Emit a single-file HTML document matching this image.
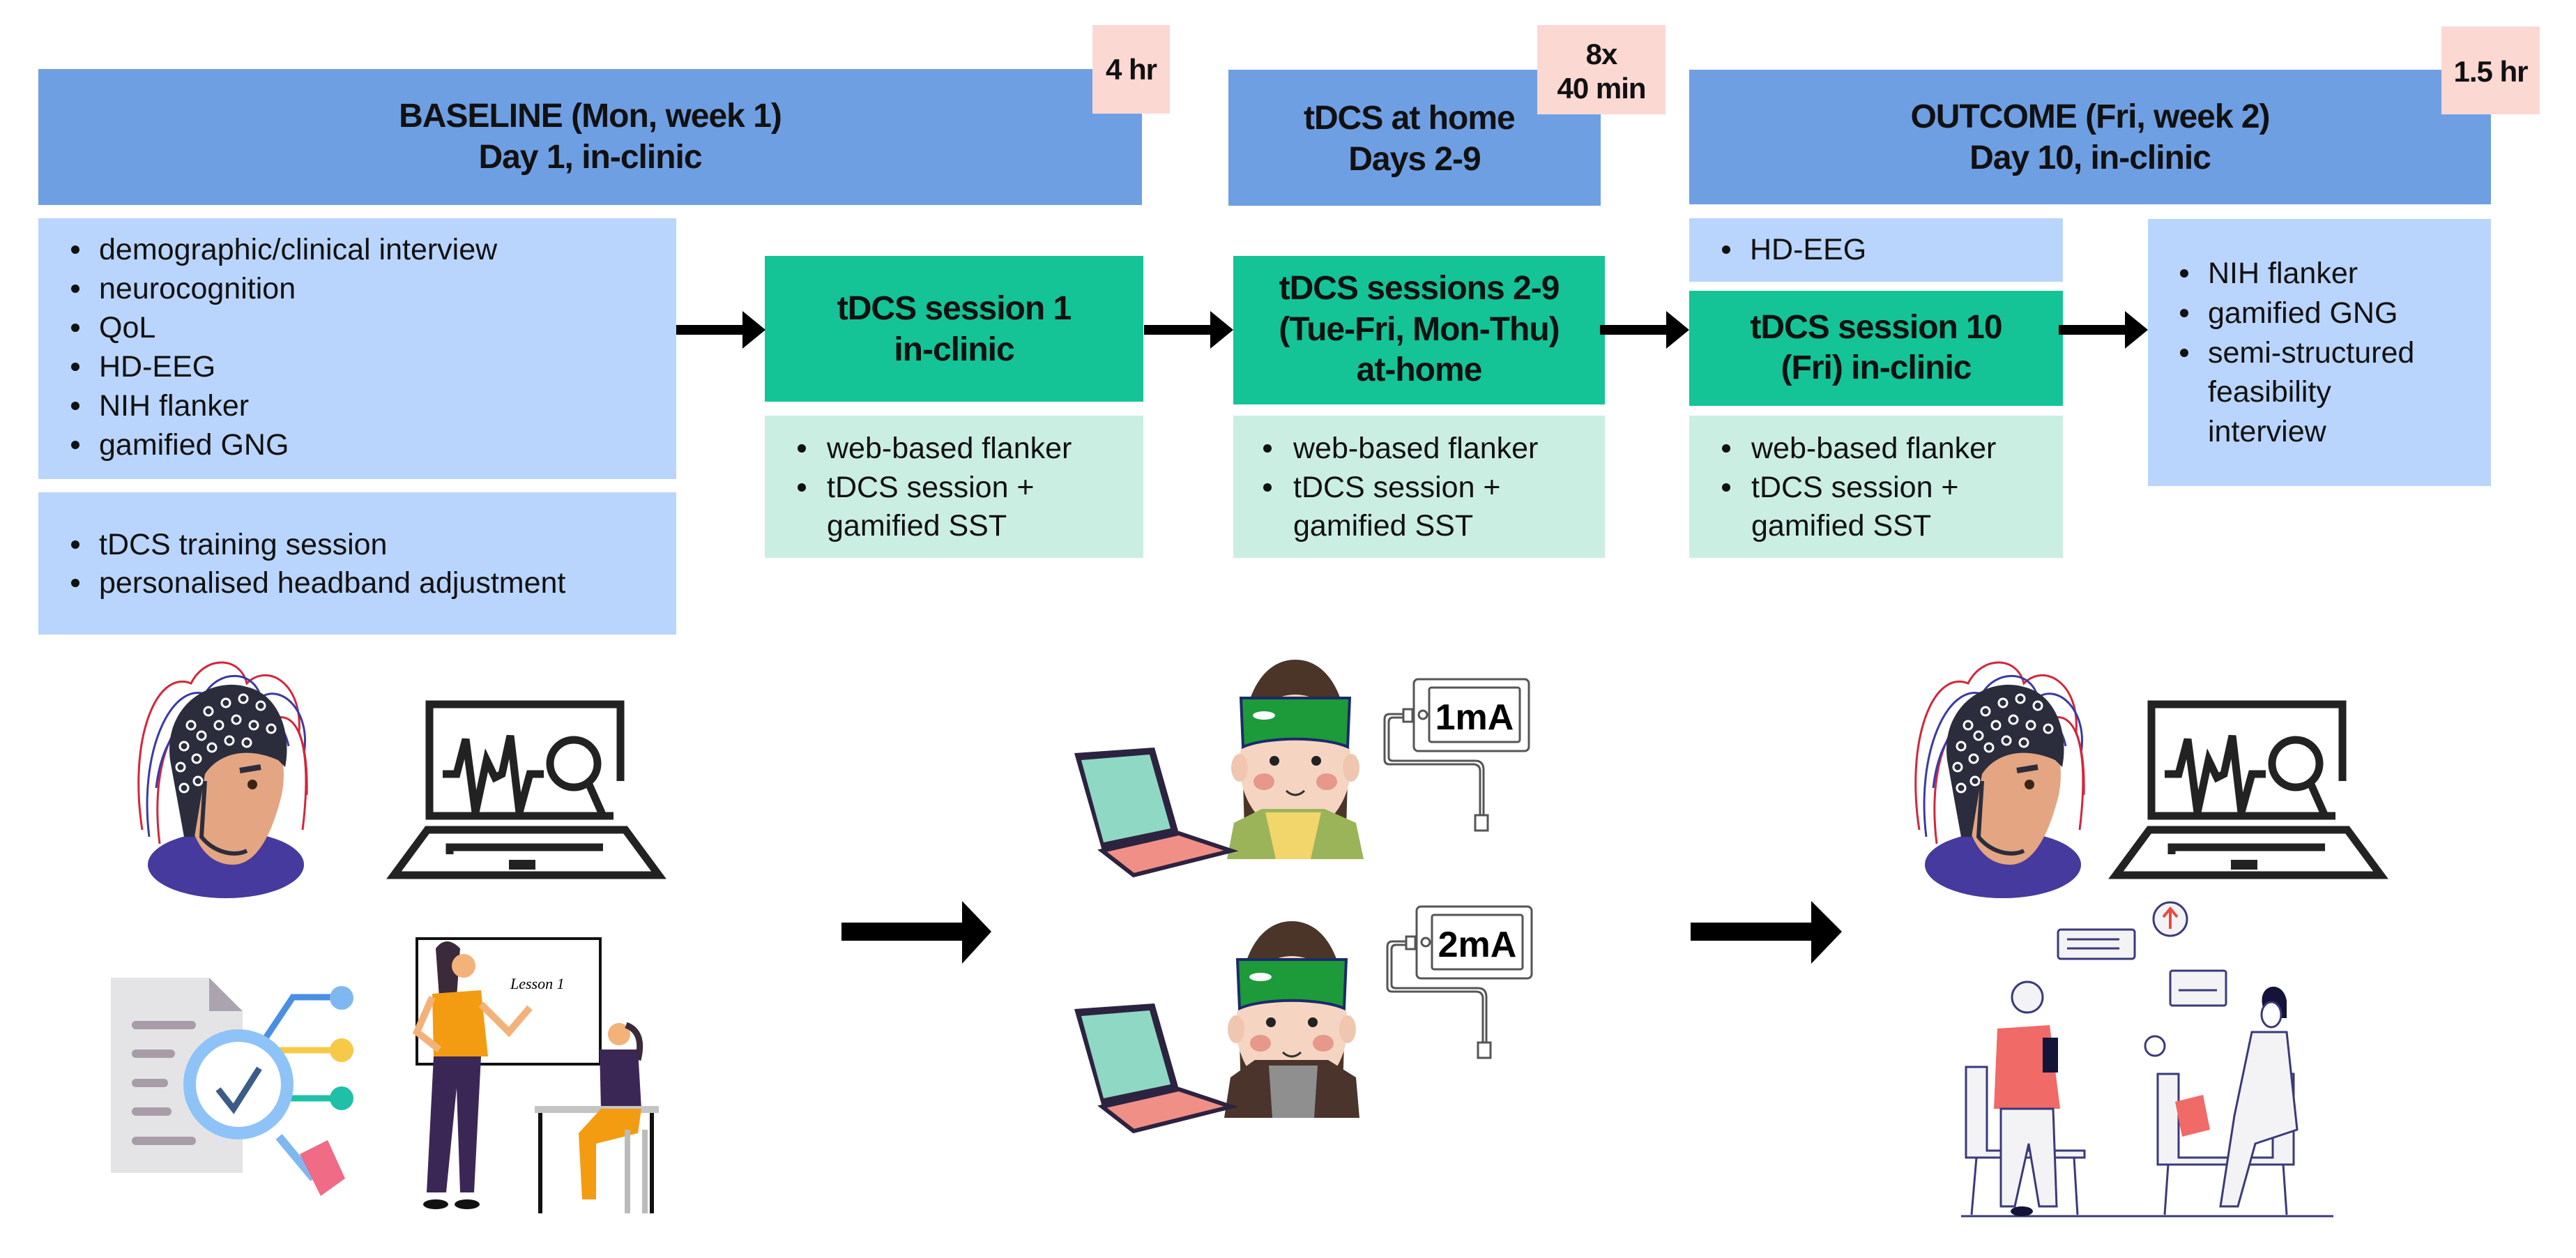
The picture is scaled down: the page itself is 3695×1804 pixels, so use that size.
<!DOCTYPE html>
<html><head><meta charset="utf-8">
<style>
html,body{margin:0;padding:0;background:#fff;}
#c{position:relative;width:3695px;height:1804px;overflow:hidden;font-family:"Liberation Sans",sans-serif;color:#111;}
.b{position:absolute;}
.t{position:absolute;white-space:nowrap;font-size:43px;line-height:50px;}
.h{position:absolute;white-space:nowrap;font-size:48px;line-height:56px;font-weight:bold;text-align:center;letter-spacing:-1px;}
.dot{position:absolute;width:12px;height:12px;border-radius:50%;background:#111;}
</style></head><body><div id="c">
<!-- headers -->
<div class="b" style="left:55px;top:99px;width:1583px;height:195px;background:#6f9fe3"></div>
<div class="b" style="left:1567px;top:36px;width:111px;height:127px;background:#fcd8d3"></div>
<div class="h" style="left:55px;width:1583px;top:139px">BASELINE (Mon, week 1)</div>
<div class="h" style="left:55px;width:1583px;top:198px">Day 1, in-clinic</div>
<div class="h" style="left:1567px;width:111px;top:72px;font-size:42px">4 hr</div>

<div class="b" style="left:1762px;top:100px;width:534px;height:195px;background:#6f9fe3"></div>
<div class="b" style="left:2205px;top:36px;width:184px;height:128px;background:#fcd8d3"></div>
<div class="h" style="left:1762px;width:534px;top:142px;text-align:left;padding-left:108px;box-sizing:border-box">tDCS at home</div>
<div class="h" style="left:1762px;width:534px;top:201px">Days 2-9</div>
<div class="h" style="left:2205px;width:184px;top:50px;font-size:42px">8x</div>
<div class="h" style="left:2205px;width:184px;top:99px;font-size:42px">40 min</div>

<div class="b" style="left:2423px;top:100px;width:1150px;height:193px;background:#6f9fe3"></div>
<div class="b" style="left:3502px;top:38px;width:141px;height:126px;background:#fcd8d3"></div>
<div class="h" style="left:2423px;width:1150px;top:140px">OUTCOME (Fri, week 2)</div>
<div class="h" style="left:2423px;width:1150px;top:199px">Day 10, in-clinic</div>
<div class="h" style="left:3502px;width:141px;top:75px;font-size:42px">1.5 hr</div>

<!-- baseline boxes -->
<div class="b" style="left:55px;top:313px;width:915px;height:374px;background:#b9d5fd"></div>
<div class="b" style="left:55px;top:706px;width:915px;height:204px;background:#b9d5fd"></div>
<div class="dot" style="left:102px;top:352px"></div><div class="t" style="left:142px;top:333px">demographic/clinical interview</div>
<div class="dot" style="left:102px;top:408px"></div><div class="t" style="left:142px;top:389px">neurocognition</div>
<div class="dot" style="left:102px;top:464px"></div><div class="t" style="left:142px;top:445px">QoL</div>
<div class="dot" style="left:102px;top:520px"></div><div class="t" style="left:142px;top:501px">HD-EEG</div>
<div class="dot" style="left:102px;top:576px"></div><div class="t" style="left:142px;top:557px">NIH flanker</div>
<div class="dot" style="left:102px;top:632px"></div><div class="t" style="left:142px;top:613px">gamified GNG</div>
<div class="dot" style="left:102px;top:775px"></div><div class="t" style="left:142px;top:756px">tDCS training session</div>
<div class="dot" style="left:102px;top:830px"></div><div class="t" style="left:142px;top:811px">personalised headband adjustment</div>

<!-- session 1 -->
<div class="b" style="left:1097px;top:367px;width:543px;height:209px;background:#14c496"></div>
<div class="h" style="left:1097px;width:543px;top:415px">tDCS session 1</div>
<div class="h" style="left:1097px;width:543px;top:474px">in-clinic</div>
<div class="b" style="left:1097px;top:596px;width:543px;height:204px;background:#cbeee3"></div>
<div class="dot" style="left:1144px;top:637px"></div><div class="t" style="left:1186px;top:618px">web-based flanker</div>
<div class="dot" style="left:1144px;top:693px"></div><div class="t" style="left:1186px;top:674px">tDCS session +</div>
<div class="t" style="left:1186px;top:729px">gamified SST</div>

<!-- sessions 2-9 -->
<div class="b" style="left:1769px;top:367px;width:533px;height:213px;background:#14c496"></div>
<div class="h" style="left:1769px;width:533px;top:386px">tDCS sessions 2-9</div>
<div class="h" style="left:1769px;width:533px;top:445px">(Tue-Fri, Mon-Thu)</div>
<div class="h" style="left:1769px;width:533px;top:503px">at-home</div>
<div class="b" style="left:1769px;top:596px;width:533px;height:204px;background:#cbeee3"></div>
<div class="dot" style="left:1812px;top:637px"></div><div class="t" style="left:1855px;top:618px">web-based flanker</div>
<div class="dot" style="left:1812px;top:693px"></div><div class="t" style="left:1855px;top:674px">tDCS session +</div>
<div class="t" style="left:1855px;top:729px">gamified SST</div>

<!-- session 10 -->
<div class="b" style="left:2423px;top:313px;width:536px;height:91px;background:#b9d5fd"></div>
<div class="dot" style="left:2470px;top:352px"></div><div class="t" style="left:2510px;top:333px">HD-EEG</div>
<div class="b" style="left:2423px;top:417px;width:536px;height:165px;background:#14c496"></div>
<div class="h" style="left:2423px;width:536px;top:442px">tDCS session 10</div>
<div class="h" style="left:2423px;width:536px;top:500px">(Fri) in-clinic</div>
<div class="b" style="left:2423px;top:596px;width:536px;height:204px;background:#cbeee3"></div>
<div class="dot" style="left:2470px;top:637px"></div><div class="t" style="left:2512px;top:618px">web-based flanker</div>
<div class="dot" style="left:2470px;top:693px"></div><div class="t" style="left:2512px;top:674px">tDCS session +</div>
<div class="t" style="left:2512px;top:729px">gamified SST</div>

<!-- outcome box -->
<div class="b" style="left:3081px;top:314px;width:492px;height:383px;background:#b9d5fd"></div>
<div class="dot" style="left:3127px;top:386px"></div><div class="t" style="left:3167px;top:367px">NIH flanker</div>
<div class="dot" style="left:3127px;top:443px"></div><div class="t" style="left:3167px;top:424px">gamified GNG</div>
<div class="dot" style="left:3127px;top:500px"></div><div class="t" style="left:3167px;top:481px">semi-structured</div>
<div class="t" style="left:3167px;top:537px">feasibility</div>
<div class="t" style="left:3167px;top:594px">interview</div>

<svg class="b" style="left:0;top:0" width="3695" height="1804" viewBox="0 0 3695 1804">
<defs>
 <g id="arr"><rect x="0" y="-7" width="100" height="14" fill="#000"/><path d="M95,-27 L128,0 L95,27 Z" fill="#000"/></g>
 <g id="eeg">
  <g fill="none" stroke-width="3">
   <path d="M20,250 C0,120 40,20 90,40 C110,0 160,0 170,40 C200,10 250,40 245,110 C260,150 255,210 250,250" stroke="#d3263a"/>
   <path d="M30,260 C15,140 60,40 110,55 C130,20 180,20 190,60 C220,40 262,80 252,140" stroke="#3a3aa8"/>
   <path d="M45,270 C30,150 70,70 120,75 C150,35 200,50 210,90 C240,80 258,120 256,200" stroke="#d3263a"/>
   <path d="M40,190 C50,100 100,70 140,90 C170,60 220,80 230,130" stroke="#3a3aa8"/>
  </g>
  <ellipse cx="140" cy="300" rx="112" ry="48" fill="#463a9e"/>
  <path d="M80,160 C80,260 110,300 150,300 C190,300 210,240 220,200 C230,150 215,100 170,95 C120,90 85,110 80,160 Z" fill="#e3a582"/>
  <path d="M60,150 C50,70 120,30 170,45 C215,55 235,110 225,160 L215,150 C170,130 130,140 110,170 L95,260 L80,260 Z" fill="#2b2d3c"/>
  <g fill="none" stroke="#fff" stroke-width="3">
   <circle cx="90" cy="100" r="6"/><circle cx="115" cy="80" r="6"/><circle cx="140" cy="68" r="6"/><circle cx="165" cy="62" r="6"/><circle cx="190" cy="72" r="6"/>
   <circle cx="80" cy="130" r="6"/><circle cx="105" cy="115" r="6"/><circle cx="130" cy="100" r="6"/><circle cx="155" cy="92" r="6"/><circle cx="180" cy="100" r="6"/><circle cx="205" cy="105" r="6"/>
   <circle cx="75" cy="160" r="6"/><circle cx="98" cy="148" r="6"/><circle cx="120" cy="132" r="6"/><circle cx="145" cy="122" r="6"/><circle cx="170" cy="125" r="6"/>
   <circle cx="80" cy="190" r="6"/><circle cx="100" cy="180" r="6"/>
  </g>
  <path d="M160,165 L190,160" stroke="#2b2d3c" stroke-width="8"/>
  <circle cx="178" cy="185" r="7" fill="#3a2418"/>
  <path d="M110,180 L105,260 C120,280 150,290 170,280" fill="none" stroke="#2b2d3c" stroke-width="6"/>
 </g>
 <g id="lap" fill="none" stroke="#222" stroke-width="11">
  <path d="M330,120 L330,10 L56,10 L56,170 L320,170"/>
  <path d="M75,110 L95,110 L108,60 L122,165 L138,90 L150,115 L160,110 L172,55 L185,165 L200,110 L220,110"/>
  <circle cx="263" cy="95" r="34"/>
  <path d="M285,125 L305,170"/>
  <path d="M53,190 L337,190 L385,255 L5,255 Z"/>
  <path d="M85,225 L85,215 L305,215"/>
  <path d="M170,240 L208,240" stroke-width="14"/>
 </g>
 <g id="girlhead">
  <path d="M25,175 C15,60 50,0 100,0 C150,0 185,60 175,175 L172,275 L28,275 Z" fill="#4a3528"/>
  <ellipse cx="100" cy="150" rx="80" ry="100" fill="#f5d5c2"/>
  <path d="M22,55 L178,55 L175,125 C140,110 60,110 25,125 Z" fill="#1d9a3a" stroke="#1d2a6a" stroke-width="4"/>
  <ellipse cx="55" cy="80" rx="16" ry="6" fill="#fff"/>
  <circle cx="70" cy="145" r="7" fill="#222"/><circle cx="130" cy="145" r="7" fill="#222"/>
  <ellipse cx="55" cy="175" rx="15" ry="12" fill="#e6988a"/><ellipse cx="145" cy="175" rx="15" ry="12" fill="#e6988a"/>
  <path d="M87,188 Q100,200 113,188" fill="none" stroke="#333" stroke-width="3"/>
  <ellipse cx="20" cy="155" rx="12" ry="20" fill="#f0c6b0"/><ellipse cx="180" cy="155" rx="12" ry="20" fill="#f0c6b0"/>
 </g>
 <g id="plap">
  <path d="M0,0 L115,-8 L150,115 L40,140 Z" fill="#2c2340"/>
  <path d="M10,10 L108,2 L138,108 L42,128 Z" fill="#8fd8c4"/>
  <path d="M40,140 L150,115 L225,140 L85,175 Z" fill="#f08f86" stroke="#2c2340" stroke-width="6"/>
 </g>
 <g id="dev" fill="none" stroke="#555" stroke-width="3">
  <rect x="0" y="0" width="165" height="103" rx="6" fill="#fff"/>
  <rect x="22" y="12" width="130" height="78" rx="3"/>
  <circle cx="13" cy="51" r="6"/>
  <rect x="-15" y="43" width="13" height="18"/>
  <path d="M-15,50 L-35,50 Q-42,50 -42,58 L-42,115 Q-42,122 -35,122 L85,122 Q95,122 95,132 L95,195"/>
  <path d="M-15,55 L-30,55 Q-36,55 -36,62 L-36,112 Q-36,117 -30,117 L88,117 Q100,117 100,130 L100,195"/>
  <rect x="88" y="195" width="18" height="22"/>
 </g>
</defs>

<use href="#arr" x="970" y="473"/>
<use href="#arr" x="1641" y="473"/>
<use href="#arr" x="2295" y="473"/>
<use href="#arr" x="2953" y="473"/>

<rect x="1207" y="1323" width="178" height="26" fill="#000"/><path d="M1380,1292 L1422,1336 L1380,1382 Z" fill="#000"/>
<rect x="2425" y="1323" width="180" height="26" fill="#000"/><path d="M2598,1292 L2642,1336 L2598,1382 Z" fill="#000"/>

<use href="#eeg" x="184" y="940"/>
<use href="#lap" x="560" y="1000"/>
<use href="#eeg" x="2733" y="940"/>
<use href="#lap" x="3030" y="1000"/>

<!-- doc illustration -->
<path d="M159,1402 L300,1402 L348,1450 L348,1682 L159,1682 Z" fill="#e4e4e6"/>
<path d="M300,1402 L300,1450 L348,1450 Z" fill="#aaa4b0"/>
<g stroke="#a79ca8" stroke-width="12" stroke-linecap="round"><path d="M195,1470 L275,1470"/><path d="M195,1511 L245,1511"/><path d="M195,1553 L235,1553"/><path d="M195,1594 L240,1594"/><path d="M195,1636 L275,1636"/></g>
<g stroke-width="9" fill="none"><path d="M380,1490 L420,1430 L480,1430" stroke="#4a90e2"/><path d="M400,1506 L480,1506" stroke="#f7c948"/><path d="M390,1575 L480,1575" stroke="#1fc0a8"/></g>
<circle cx="490" cy="1431" r="17" fill="#7fb8f0"/><circle cx="490" cy="1506" r="17" fill="#f7c948"/><circle cx="490" cy="1575" r="17" fill="#1fc0a8"/>
<path d="M400,1630 L450,1690" stroke="#7fb8f0" stroke-width="12"/>
<path d="M430,1655 L470,1635 L495,1690 L460,1715 Z" fill="#ef6b86"/>
<circle cx="342" cy="1555" r="70" fill="#fff" stroke="#8ec3f7" stroke-width="18"/>
<path d="M313,1562 L335,1590 L372,1532" fill="none" stroke="#3b5c86" stroke-width="9"/>

<!-- teacher -->
<rect x="598" y="1346" width="263" height="180" fill="#fff" stroke="#111" stroke-width="4"/>
<text x="732" y="1418" font-family="Liberation Serif, serif" font-style="italic" font-size="22">Lesson 1</text>
<path d="M625,1360 Q640,1340 660,1360 L655,1430 L630,1430 Z" fill="#3a2a3a"/>
<circle cx="665" cy="1385" r="17" fill="#f3b27a"/>
<path d="M620,1425 L690,1420 L700,1515 L622,1515 Z" fill="#f39c12"/>
<path d="M690,1440 L730,1480 L760,1445" fill="none" stroke="#f3b27a" stroke-width="10"/>
<path d="M620,1430 L598,1480 L630,1505" fill="none" stroke="#f3b27a" stroke-width="10"/>
<path d="M622,1515 L690,1515 L680,1710 L660,1710 L655,1560 L640,1710 L612,1710 Z" fill="#3b2755"/>
<ellipse cx="625" cy="1727" rx="18" ry="7" fill="#111"/><ellipse cx="670" cy="1727" rx="18" ry="7" fill="#111"/>
<circle cx="888" cy="1483" r="16" fill="#f3b27a"/>
<path d="M898,1470 Q925,1480 915,1520" fill="none" stroke="#3a2a3a" stroke-width="9"/>
<path d="M860,1505 L915,1505 L920,1590 L862,1590 Z" fill="#3b2755"/>
<rect x="767" y="1586" width="178" height="10" fill="#c4c4c4"/>
<path d="M775,1596 L775,1740 M935,1596 L935,1740" stroke="#111" stroke-width="6"/>
<path d="M862,1590 L920,1590 L915,1625 L855,1640 L855,1720 L835,1720 L830,1625 Z" fill="#f39c12"/>
<path d="M900,1620 L900,1740 M925,1620 L925,1740" stroke="#bbb" stroke-width="8"/>

<!-- girls -->
<use href="#girlhead" x="1758" y="946"/>
<path d="M1760,1232 L1770,1180 L1810,1160 L1900,1160 L1945,1180 L1956,1232 Z" fill="#9bb45a"/>
<path d="M1815,1165 L1895,1165 L1880,1232 L1830,1232 Z" fill="#f2d56b"/>
<use href="#plap" x="1541" y="1080"/>
<use href="#dev" x="2028" y="974"/>
<text x="2115" y="1046" text-anchor="middle" font-size="52" font-weight="bold">1mA</text>

<use href="#girlhead" x="1753" y="1321"/>
<path d="M1756,1603 L1765,1545 L1800,1520 L1905,1520 L1945,1545 L1950,1603 Z" fill="#4a342c"/>
<path d="M1820,1528 L1890,1528 L1885,1603 L1825,1603 Z" fill="#8f8f8f"/>
<use href="#plap" x="1541" y="1447"/>
<use href="#dev" x="2032" y="1300"/>
<text x="2119" y="1372" text-anchor="middle" font-size="52" font-weight="bold">2mA</text>

<!-- interview -->
<g stroke="#3a3a7a" stroke-width="3" fill="#f3f3f6">
 <rect x="2952" y="1333" width="110" height="42" rx="4"/>
 <circle cx="3113" cy="1318" r="24"/>
 <rect x="3113" y="1392" width="80" height="50" rx="3"/>
 <path d="M2820,1530 L2850,1530 L2850,1650 L2990,1650 L2990,1660 L2820,1660 Z"/>
 <path d="M3095,1540 L3125,1540 L3125,1660 L3260,1660 L3260,1540 L3290,1540 L3290,1670 L3095,1670 Z"/>
 <path d="M2835,1660 L2828,1742 M2975,1660 L2980,1742 M3110,1670 L3105,1742 M3275,1670 L3280,1742" fill="none"/>
</g>
<g stroke="#3a3a7a" stroke-width="3"><path d="M2965,1347 L3040,1347 M2965,1360 L3040,1360"/><path d="M3125,1420 L3180,1420"/></g>
<path d="M3113,1332 L3113,1305 M3103,1315 L3113,1303 L3123,1315" stroke="#e74c3c" stroke-width="4" fill="none"/>
<path d="M2813,1744 L3347,1744" stroke="#3a3a7a" stroke-width="3"/>
<circle cx="2908" cy="1430" r="22" fill="#f3f3f6" stroke="#3a3a7a" stroke-width="3"/>
<path d="M2865,1475 L2940,1470 L2955,1590 L2860,1590 Z" fill="#f06a68"/>
<rect x="2930" y="1488" width="22" height="50" fill="#141438"/>
<path d="M2870,1590 L2945,1590 L2950,1730 L2925,1730 L2910,1640 L2890,1730 L2870,1730 Z" fill="#f3f3f6" stroke="#3a3a7a" stroke-width="3"/>
<ellipse cx="2900" cy="1737" rx="16" ry="7" fill="#141438"/>
<path d="M3245,1440 C3240,1410 3275,1405 3280,1435 L3280,1460 L3248,1460 Z" fill="#141438"/>
<ellipse cx="3258" cy="1455" rx="14" ry="18" fill="#fff" stroke="#3a3a7a" stroke-width="3"/>
<path d="M3230,1480 L3280,1480 L3295,1620 L3235,1640 L3210,1730 L3185,1730 L3205,1600 Z" fill="#f3f3f6" stroke="#3a3a7a" stroke-width="3"/>
<path d="M3120,1580 L3160,1570 L3170,1620 L3130,1630 Z" fill="#f06a68"/>
<circle cx="3091" cy="1500" r="14" fill="#fff" stroke="#3a3a7a" stroke-width="3"/>
</svg>
</div></body></html>
